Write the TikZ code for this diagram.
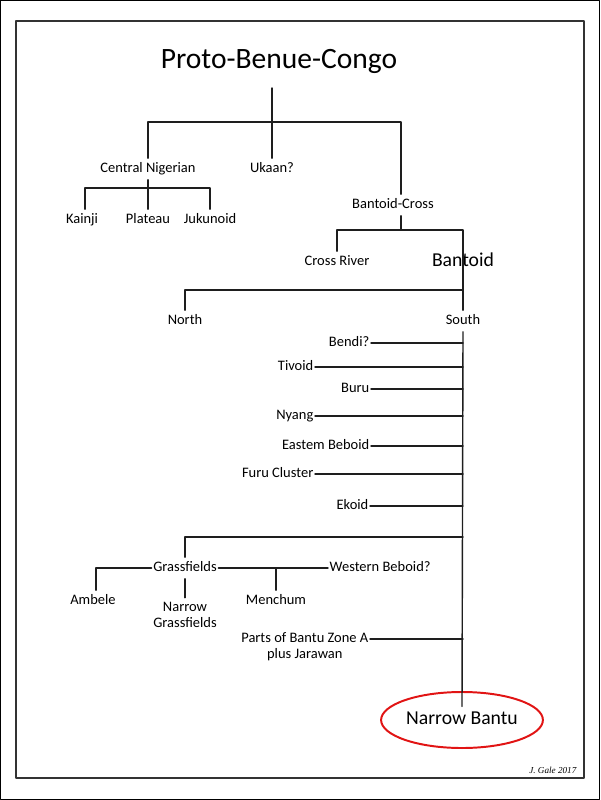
\documentclass[tikz,border=0pt]{standalone}
\usepackage{fontspec}
\setmainfont{Carlito}
\newfontfamily\signfont{Liberation Serif}
\usetikzlibrary{shapes.geometric}
\definecolor{treeline}{RGB}{30,30,30}
\definecolor{ringred}{RGB}{225,20,20}

\begin{document}
\begin{tikzpicture}[line join=round, line cap=round, x=0.025cm, y=-0.025cm]
	\tikzset{every node/.style={inner xsep=1pt, inner ysep=3pt, text height=7pt, text depth=2pt,
			font=\fontsize{10.3}{11.5}\selectfont},
		twoline/.style={align=center, text height=, text depth=},
		bigname/.style={font=\fontsize{14}{16}\selectfont, text height=10pt, text depth=3pt},
		branch/.style={anchor=east}}
	\useasboundingbox (0,0) rectangle (600,800);
	% page edge and frame
	\draw[line width=0.8pt] (0.6,0.6) rectangle (599.4,799.4);
	\draw[line width=1pt, black!80] (16,21) rectangle (584,778);
	
	% top of the tree
	\node[font=\fontsize{21}{25}\selectfont, text height=15pt, text depth=4pt, inner ysep=9.5pt] (pbc) at (279,61) {Proto-Benue-Congo};
	\node (cn) at (148,169) {Central Nigerian};
	\node (ukaan) at (272,169) {Ukaan?};
	\node (bc) at (393,205) {Bantoid-Cross};
	\node (kainji) at (82,220) {Kainji};
	\node (plateau) at (148,220) {Plateau};
	\node (jukunoid) at (210,220) {Jukunoid};
	\node (crossriver) at (337,262) {Cross River};
	\node[bigname] (bantoid) at (463,262) {Bantoid};
	\node (north) at (185,321) {North};
	\node (south) at (463,321) {South};
	
	% southern branches
	\node[branch] (bendi) at (371,343) {Bendi?};
	\node[branch] (tivoid) at (315,367) {Tivoid};
	\node[branch] (buru) at (371,389) {Buru};
	\node[branch] (nyang) at (315,416) {Nyang};
	\node[branch] (ebeboid) at (371,446) {Eastem Beboid};
	\node[branch] (furu) at (315,474) {Furu Cluster};
	\node[branch] (ekoid) at (370,506) {Ekoid};
	
	\node (grass) at (185,568) {Grassfields};
	\node (ambele) at (93,601) {Ambele};
	\node[twoline] (ngrass) at (185,615) {Narrow\\Grassfields};
	\node (menchum) at (276,601) {Menchum};
	\node[anchor=west] (wbeboid) at (328,568) {Western Beboid?};
	\node[twoline, anchor=east] (zonea) at (370,647) {Parts of Bantu Zone A\\plus Jarawan};
	
	\node[bigname, ellipse, draw=ringred, line width=1.4pt, minimum width=3.5cm, minimum height=1.4cm] (nb) at (462,720) {Narrow Bantu};
	\node[font=\signfont\itshape\fontsize{6.5}{8}\selectfont, anchor=east] (sign) at (578,770) {J. Gale 2017};
	
	\coordinate (crossdrop) at (401,122);
	\coordinate (cnbar) at (148,188);
	\coordinate (bcbar) at (401,230);
	\coordinate (nsbar) at (463,290);
	\coordinate (lowbar) at (463,537);
	
	\begin{scope}[draw=treeline, line width=1pt]
		\draw (ukaan.north |- pbc.south) -- (ukaan.north);
		\draw (cn.north) |- (crossdrop) -- (crossdrop |- bc.north);
		\draw (cn.south) -- (plateau.north);
		\draw ([xshift=2pt]kainji.north) |- (jukunoid.north |- cnbar) -- (jukunoid.north);
		\draw (crossdrop |- bc.south) -- (bcbar);
		\draw (crossriver.north) |- (nsbar |- bcbar) -- (south.north);
		\draw (north.north) |- (nsbar);
		\draw (south.south) -- ([yshift=-11pt]nb.north);
		\foreach \lang in {bendi,tivoid,buru,nyang,ebeboid,furu,ekoid}
			\draw (\lang.east) -- (\lang.east -| south);
		\draw ([yshift=5.7pt]zonea.east) -- ([yshift=5.7pt]zonea.east -| south);
		\draw (grass.north) |- (lowbar);
		\draw (grass.west) -| ([xshift=2pt]ambele.north);
		\draw (grass.south) -- (ngrass.north);
		\draw (grass.east) -- (wbeboid.west);
		\draw (menchum.north) -- (menchum.north |- grass.east);
	\end{scope}
\end{tikzpicture}
\end{document}
